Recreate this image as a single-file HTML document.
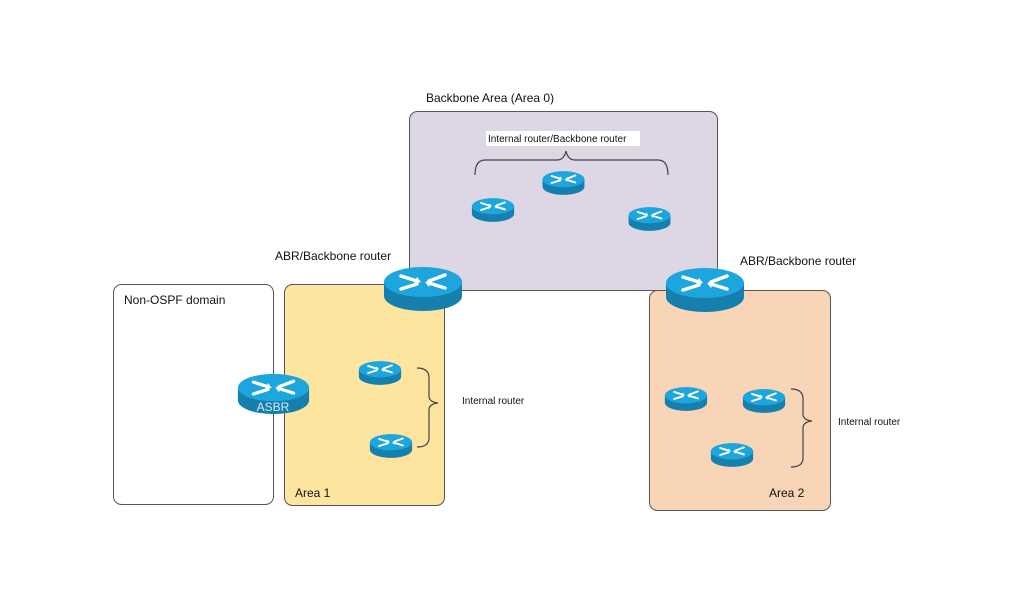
<!DOCTYPE html>
<html><head><meta charset="utf-8"><style>
body{margin:0;width:1024px;height:597px;background:#fff;overflow:hidden;font-family:"Liberation Sans",sans-serif}
</style></head><body>
<svg width="1024" height="597" viewBox="0 0 1024 597" xmlns="http://www.w3.org/2000/svg">
<defs>
<symbol id="r" viewBox="0 0 80 48">
<path d="M1,17 L1,31 A39,15 0 0 0 79,31 L79,17 Z" fill="#1580ad"/>
<ellipse cx="40" cy="17" rx="39" ry="15" fill="#1da5dd"/>
<g fill="none" stroke="#fff" stroke-width="3.5" stroke-linecap="round">
<path d="M18,11 L34,16"/><path d="M46,18 L62,23"/>
<path d="M62,10 L46,16"/><path d="M34,19 L18,24"/>
</g>
<g fill="#fff"><path d="M34,12 L38,17 L31,19Z"/><path d="M46,22 L42,17 L49,15Z"/></g>
</symbol>
</defs>
<g stroke="#555" stroke-width="1">
<rect x="409.5" y="111.5" width="308" height="179" rx="8" fill="#ddd6e5"/>
<rect x="113.5" y="284.5" width="160" height="220" rx="8" fill="#fff"/>
<rect x="284.5" y="284.5" width="160" height="221" rx="8" fill="#fde5a0"/>
<rect x="649.5" y="290.5" width="181" height="220" rx="8" fill="#f8d5b7"/>
</g>
<g fill="none" stroke="#444" stroke-width="1.2">
<path d="M475,175 Q475,160 485,160 L557,160 Q564,160 566,151 Q568,160 575,160 L658,160 Q668,160 668,175"/>
<path d="M417,368 Q429,368 429,378 L429,396 Q429,402 438,403 Q429,404 429,410 L429,438 Q429,447 417,447"/>
<path d="M791,389 Q803,389 803,399 L803,414 Q803,420 812,421 Q803,422 803,428 L803,458 Q803,467 791,467"/>
</g>
<rect x="486" y="131" width="154" height="15" fill="#fff"/>
<g font-size="12" fill="#111">
<text x="426" y="102">Backbone Area (Area 0)</text>
<text x="275" y="260">ABR/Backbone router</text>
<text x="740" y="265">ABR/Backbone router</text>
<text x="124" y="304">Non-OSPF domain</text>
<text x="295" y="497">Area 1</text>
<text x="769" y="497">Area 2</text>
</g>
<g font-size="10" fill="#111">
<text x="488" y="142">Internal router/Backbone router</text>
<text x="462" y="404">Internal router</text>
<text x="838" y="425">Internal router</text>
</g>
<use href="#r" x="383" y="265" width="80" height="48"/>
<use href="#r" x="665" y="266" width="80" height="48"/>
<use href="#r" x="237" y="372" width="73" height="44" preserveAspectRatio="none"/>
<text x="273" y="411" font-size="12" fill="#cfe9f5" text-anchor="middle">ASBR</text>
<use href="#r" x="471" y="197" width="44" height="26" preserveAspectRatio="none"/>
<use href="#r" x="542" y="170" width="43" height="26" preserveAspectRatio="none"/>
<use href="#r" x="628" y="206" width="43" height="26" preserveAspectRatio="none"/>
<use href="#r" x="358" y="360" width="44" height="26" preserveAspectRatio="none"/>
<use href="#r" x="369" y="433" width="44" height="26" preserveAspectRatio="none"/>
<use href="#r" x="664" y="386" width="44" height="26" preserveAspectRatio="none"/>
<use href="#r" x="742" y="388" width="44" height="26" preserveAspectRatio="none"/>
<use href="#r" x="710" y="442" width="44" height="26" preserveAspectRatio="none"/>
</svg>
</body></html>
